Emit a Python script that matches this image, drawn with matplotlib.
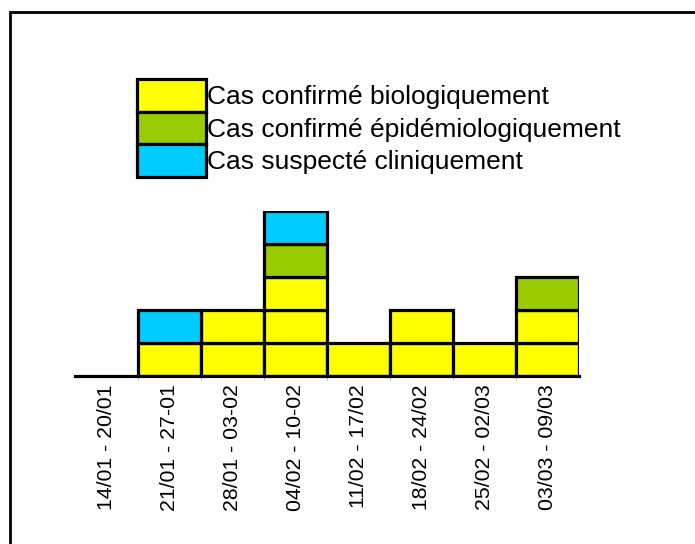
import matplotlib.pyplot as plt
from matplotlib.patches import Patch, Rectangle

plt.rcParams['font.family'] = ['Liberation Sans', 'DejaVu Sans']

weeks = ["14/01 - 20/01", "21/01 - 27-01", "28/01 - 03-02", "04/02 - 10-02",
         "11/02 - 17/02", "18/02 - 24/02", "25/02 - 02/03", "03/03 - 09/03"]
bio = [0, 1, 2, 3, 1, 2, 1, 2]
epi = [0, 0, 0, 1, 0, 0, 0, 1]
susp = [0, 1, 0, 1, 0, 0, 0, 0]

labels = ["Cas confirmé biologiquement", "Cas confirmé épidémiologiquement",
          "Cas suspecté cliniquement"]
colors = ["#ffff00", "#99cc00", "#00ccff"]

W, H = 695, 544
fig = plt.figure(figsize=(W / 100, H / 100), dpi=100)
ax = fig.add_axes([75 / W, 1 - 376 / H, (579 - 75) / W, 165 / H])

# one box per case, stacked
x = range(len(weeks))
for series, col, base in [(bio, colors[0], [0] * len(weeks)),
                          (epi, colors[1], bio),
                          (susp, colors[2], [b + e for b, e in zip(bio, epi)])]:
    for i in x:
        for k in range(series[i]):
            ax.bar(i, 1, bottom=base[i] + k, width=1, color=col,
                   edgecolor='black', linewidth=2.3)

ax.set_xlim(-0.5, len(weeks) - 0.5)
ax.set_ylim(0, 5)
for s in ['top', 'right', 'left']:
    ax.spines[s].set_visible(False)
ax.spines['bottom'].set_linewidth(2.3)
ax.set_yticks([])
ax.set_xticks(list(x))
ax.set_xticklabels(weeks, rotation=90, fontsize=15.3)
ax.tick_params(axis='x', length=0, pad=6)
ax.set_xticks([i + 0.5 for i in range(len(weeks) - 1)], minor=True)
ax.tick_params(axis='x', which='minor', length=3, color='#aaaaaa')

handles = [Patch(facecolor=c, edgecolor='black', linewidth=2.3) for c in colors]
fig.legend(handles, labels, loc='upper left', bbox_to_anchor=(137 / W, 1 - 79 / H),
           frameon=False, fontsize=19, handlelength=2.63, handleheight=1.53,
           labelspacing=0.0, handletextpad=0.02, borderpad=0, borderaxespad=0)

# outer frame (only top/left visible in image)
fig.patches.append(Rectangle((10 / W, -0.1), 1.2, 1 - 12.5 / H + 0.1,
                             transform=fig.transFigure, fill=False,
                             edgecolor='black', linewidth=2))

fig.savefig("out.png", dpi=100)
